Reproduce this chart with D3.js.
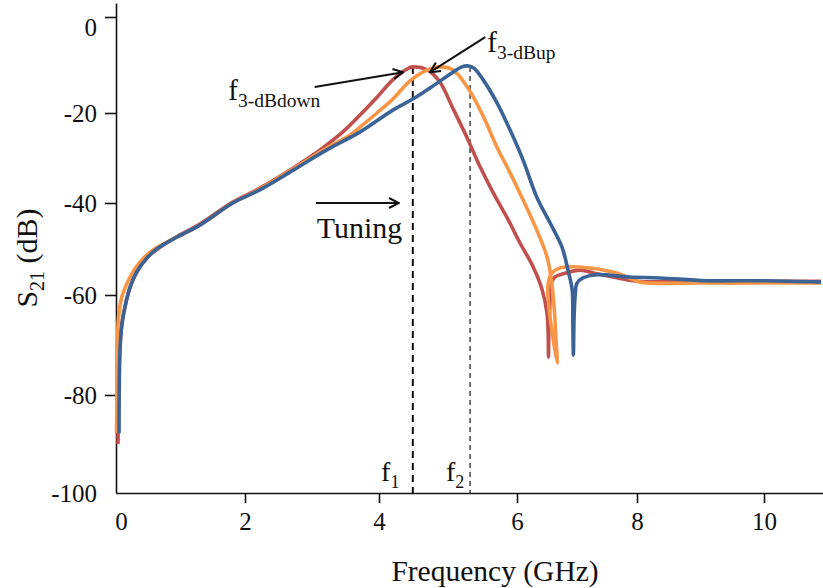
<!DOCTYPE html>
<html>
<head>
<meta charset="utf-8">
<script src="https://cdn.jsdelivr.net/npm/d3@7"></script>
<style>
  body { margin: 0; background: #fff; }
  text { font-family: "Liberation Serif", "Times New Roman", serif; fill: #111; }
</style>
</head>
<body>
<div id="chart"></div>
<script>
// values (frequency in GHz, S21 in dB)
const xTicks = [0, 2, 4, 6, 8, 10];
const yTicks = [0, -20, -40, -60, -80, -100];

const redFreq = [0.031, 0.039, 0.062, 0.093, 0.155, 0.233, 0.341, 0.496, 0.682, 0.961, 1.30, 1.81, 2.22, 2.72, 3.12, 3.46, 3.72, 3.97, 4.20, 4.41, 4.49, 4.70, 4.88, 5.07, 5.28, 5.46, 5.65, 5.86, 6.05, 6.27, 6.42, 6.50, 6.52, 6.525, 6.53, 6.55, 6.56, 6.63, 6.77, 7.05, 7.33, 7.60, 8.0, 8.99, 10.0, 10.9];
const redS21 = [-90.0, -81.0, -70, -65.4, -61.4, -57.8, -54.6, -51.7, -49.6, -47.2, -44.6, -39.8, -36.7, -32.2, -28.2, -24.2, -20.4, -16.7, -13.1, -10.8, -10.4, -11.0, -13.5, -19.0, -25.6, -31.8, -37.6, -43.3, -48.7, -53.9, -58.9, -63.6, -68, -72.4, -68, -61, -57.8, -56.1, -55.4, -54.6, -55.4, -56.1, -57.0, -57.0, -57.0, -57.0];

const orangeFreq = [0.008, 0.016, 0.023, 0.039, 0.078, 0.109, 0.217, 0.372, 0.574, 0.915, 1.30, 1.81, 2.22, 2.72, 3.22, 3.57, 3.72, 3.97, 4.20, 4.45, 4.70, 4.88, 5.07, 5.28, 5.51, 5.71, 5.90, 6.10, 6.33, 6.50, 6.58, 6.63, 6.65, 6.67, 6.58, 6.52, 6.52, 6.57, 6.72, 7.05, 7.60, 7.88, 8.05, 8.99, 10.0, 10.9];
const orangeS21 = [-87.8, -77, -69, -64.4, -61, -59.6, -56.1, -52.8, -50.2, -47.6, -44.8, -40, -36.9, -32.4, -27.8, -24.9, -23.1, -20, -17.1, -13.3, -11.0, -10.4, -11.0, -14.6, -20.7, -27.6, -33.3, -39.3, -45.9, -51.7, -57.4, -64.4, -69, -73.6, -67, -61, -57.4, -55.4, -54.1, -53.9, -55.0, -56.3, -57.2, -57.4, -57.4, -57.4];

const blueFreq = [0.047, 0.062, 0.088, 0.14, 0.217, 0.32, 0.476, 0.65, 0.946, 1.30, 1.81, 2.22, 2.72, 3.22, 3.72, 4.20, 4.49, 4.78, 5.07, 5.20, 5.30, 5.38, 5.51, 5.71, 5.90, 6.10, 6.33, 6.55, 6.75, 6.85, 6.92, 6.93, 6.94, 6.95, 6.97, 7.0, 7.1, 7.33, 7.88, 8.36, 9.1, 10.0, 10.9];
const blueS21 = [-87.8, -71, -66.4, -62.4, -58.3, -55.0, -52.0, -49.8, -47.4, -44.8, -40, -37.1, -32.7, -28.2, -24.2, -19.4, -17.1, -14.4, -11.5, -10.4, -10.2, -10.7, -13.1, -17.9, -23.8, -30.4, -38.7, -44.3, -49.6, -54.6, -58.9, -65, -72, -65, -60, -57.4, -56.3, -55.6, -56.1, -56.3, -56.9, -56.9, -57.2];

// marker lines at the two peaks
const markerFreq = [4.49, 5.32];
const markerTop = -10.4;

const width = 823, height = 588;

const svg = d3.select("#chart").append("svg")
    .attr("width", width)
    .attr("height", height);

// the printed axes are not evenly spaced, so the scales are piecewise
const x = d3.scaleLinear()
    .domain([0, 2, 4, 6, 8, 10, 10.93])
    .range([116, 245, 379, 517, 637, 764, 823]);

const y = d3.scaleLinear()
    .domain([-100, -80, -60, -40, -20, 0, 2.9])
    .range([493, 395, 295, 203, 113, 17, 3]);

const xAxis = g => g
    .attr("transform", "translate(0," + y(-100) + ")")
    .call(d3.axisBottom(x).tickValues(xTicks).tickSize(10).tickPadding(9).tickSizeOuter(0).tickFormat(d => d));

const yAxis = g => g
    .attr("transform", "translate(" + x(0) + ",0)")
    .call(d3.axisLeft(y).tickValues(yTicks).tickSize(11).tickPadding(8).tickSizeOuter(0).tickFormat(d => d));

const gx = svg.append("g").call(xAxis);
const gy = svg.append("g").call(yAxis);

[gx, gy].forEach(g => {
    g.select(".domain").attr("stroke", "#111").attr("stroke-width", 1.6);
    g.selectAll(".tick line").attr("stroke", "#111").attr("stroke-width", 1.6);
    g.selectAll(".tick text").attr("font-size", 25).attr("fill", "#111")
        .style("font-family", "'Liberation Serif', serif");
});
gx.selectAll(".tick").filter(d => d === 0).select("line").remove();
gx.selectAll(".tick").filter(d => d === 0).select("text").attr("dx", 5);
gy.selectAll(".tick").filter(d => d === -100).select("line").remove();
gy.selectAll(".tick").filter(d => d === 0).select("text").attr("dy", "0.75em");

// axis titles
svg.append("text")
    .attr("x", 495)
    .attr("y", 581)
    .attr("text-anchor", "middle")
    .attr("font-size", 29.5)
    .text("Frequency (GHz)");

const yl = svg.append("text")
    .attr("transform", "translate(37,258) rotate(-90)")
    .attr("text-anchor", "middle")
    .attr("font-size", 30);
yl.append("tspan").text("S");
yl.append("tspan").attr("dy", 7).attr("font-size", 20).text("21");
yl.append("tspan").attr("dy", -7).text(" (dB)");

// dashed marker lines
svg.selectAll(".marker")
    .data(markerFreq)
    .enter().append("line")
    .attr("class", "marker")
    .attr("x1", d => x(d))
    .attr("x2", d => x(d))
    .attr("y1", y(markerTop))
    .attr("y2", y(-100))
    .attr("stroke", (d, i) => i === 0 ? "#111" : "#444")
    .attr("stroke-width", (d, i) => i === 0 ? 2 : 1.5)
    .attr("stroke-dasharray", (d, i) => i === 0 ? "7,5" : "5,4");

// curves
const series = [
    { name: "red", color: "#C0504D", freq: redFreq, s21: redS21 },
    { name: "orange", color: "#F79646", freq: orangeFreq, s21: orangeS21 },
    { name: "blue", color: "#3B6396", freq: blueFreq, s21: blueS21 }
];

const line = d3.line()
    .x(d => x(d[0]))
    .y(d => y(d[1]))
    .curve(d3.curveCatmullRom.alpha(0.5));

svg.selectAll(".curve")
    .data(series)
    .enter().append("path")
    .attr("class", "curve")
    .attr("fill", "none")
    .attr("stroke", d => d.color)
    .attr("stroke-width", 3.6)
    .attr("d", d => line(d.freq.map((f, i) => [f, d.s21[i]])));

// arrows and labels
svg.append("defs").append("marker")
    .attr("id", "head")
    .attr("viewBox", "0 0 12 12")
    .attr("refX", 11).attr("refY", 6)
    .attr("markerWidth", 12).attr("markerHeight", 12)
    .attr("markerUnits", "userSpaceOnUse")
    .attr("orient", "auto")
    .append("path")
    .attr("d", "M1,1 L11,6 L1,11")
    .attr("fill", "none")
    .attr("stroke", "#111")
    .attr("stroke-width", 2);

const arrows = [
    [3.04, -14.6, 4.35, -11.5],
    [5.54, -4.2, 4.74, -11.5],
    [3.06, -40, 4.29, -40]
];

svg.selectAll(".arrow")
    .data(arrows)
    .enter().append("line")
    .attr("class", "arrow")
    .attr("x1", d => x(d[0])).attr("y1", d => y(d[1]))
    .attr("x2", d => x(d[2])).attr("y2", d => y(d[3]))
    .attr("stroke", "#111")
    .attr("stroke-width", 2)
    .attr("marker-end", "url(#head)");

function subLabel(fx, fy, main, sub, size, subSize) {
    const t = svg.append("text")
        .attr("x", x(fx))
        .attr("y", y(fy))
        .attr("font-size", size);
    t.append("tspan").text(main);
    t.append("tspan").attr("dy", size * 0.25).attr("font-size", subSize).text(sub);
}

subLabel(1.74, -17.3, "f", "3-dBdown", 29, 19.5);
subLabel(5.57, -7.3, "f", "3-dBup", 29, 19.5);
subLabel(4.03, -97.6, "f", "1", 28, 18);
subLabel(4.97, -97.6, "f", "2", 28, 18);

svg.append("text")
    .attr("x", x(3.07))
    .attr("y", y(-47.6))
    .attr("font-size", 30)
    .text("Tuning");
</script>
</body>
</html>
